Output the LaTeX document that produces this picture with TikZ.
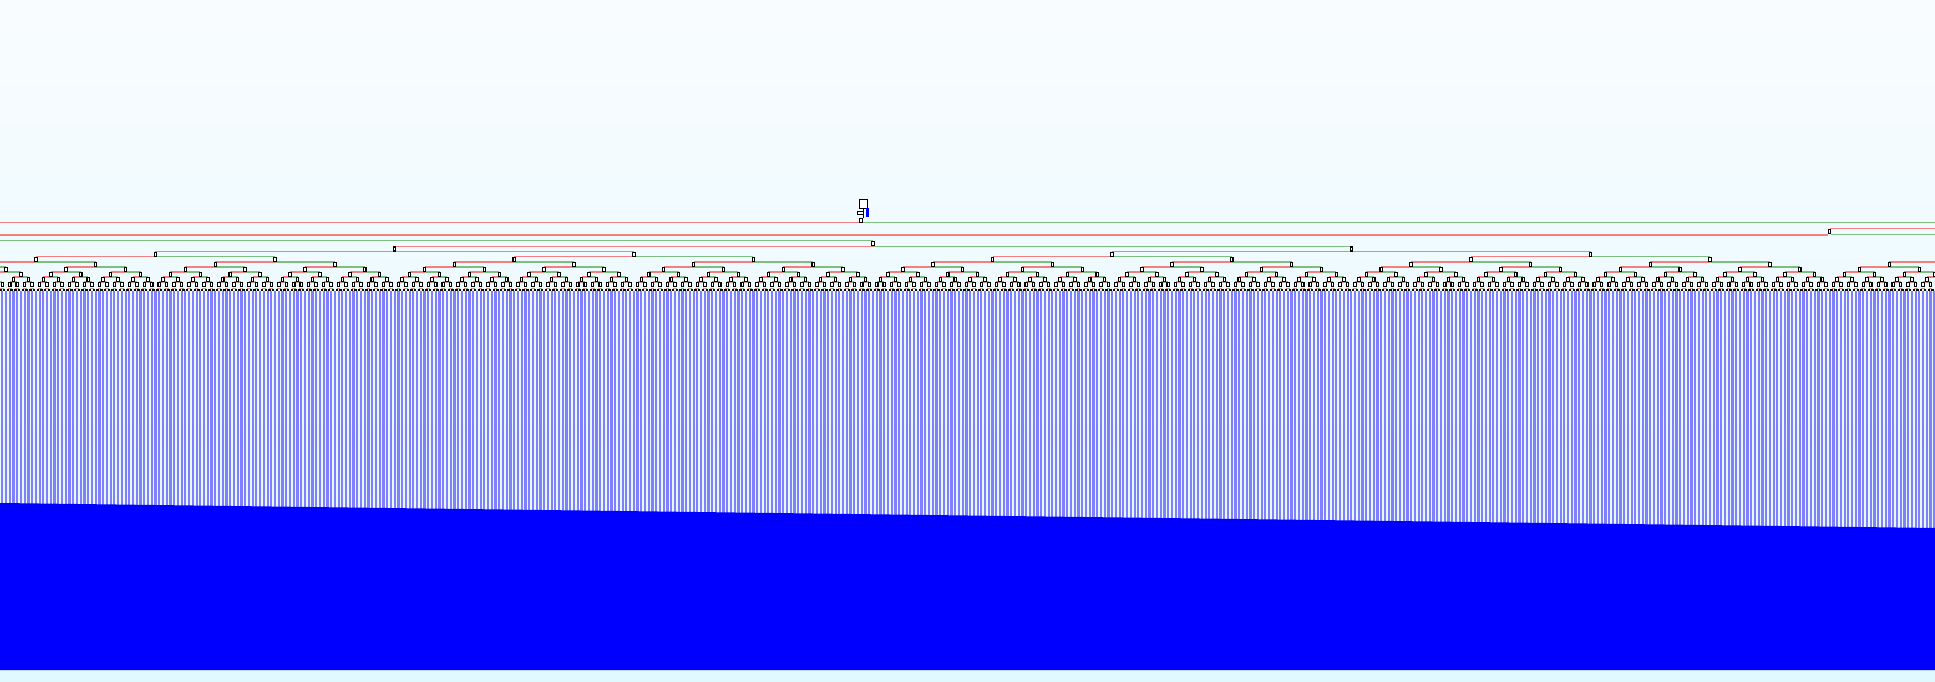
\documentclass[tikz,border=0pt]{standalone}
\usetikzlibrary{positioning}
\definecolor{linkred}{RGB}{242,128,128}
\definecolor{linkgreen}{RGB}{126,190,126}
\definecolor{barblue}{RGB}{128,128,255}
\definecolor{bgtop}{RGB}{249,252,255}
\definecolor{bgbottom}{RGB}{224,248,255}
\tikzset{
  treebox/.style={draw=black, fill=white, line width=0.6pt, inner sep=0pt,
    minimum width=1.4pt, minimum height=2.3pt},
  nullbox/.style={draw=black, fill=white, line width=0.55pt, inner sep=0pt,
    minimum width=0.8pt, minimum height=0.7pt},
  redlink/.style={draw=linkred, line width=0.9pt},
  greenlink/.style={draw=linkgreen, line width=0.9pt},
  nulllink/.style={line width=0.7pt},
}
\def\xo{873}
\def\sp{3.737}
\begin{document}
\begin{tikzpicture}[x=0.02cm, y=-0.02cm]
  \useasboundingbox (0,0) rectangle (1935,682);
  \clip (0,0) rectangle (1935,682);
  \shade[top color=bgtop, bottom color=bgbottom] (0,0) rectangle (1935,682);

  % value bars
  \foreach \k in {-234,...,286}
    \fill[barblue] ({\xo+\k*\sp-1.1},291) rectangle ({\xo+\k*\sp+1.1},560);
  \fill[blue] (0,503) -- (1935,528) -- (1935,670) -- (0,670) -- cycle;

  % top of the tree
  \coordinate (w1) at (0,222.7);
  \coordinate (e1) at (1935,222.7);
  \coordinate (w2) at (0,235);
  \coordinate (e2) at (1935,228.3);
  \coordinate (e3) at (1935,234.3);
  \coordinate (w3) at (0,240.7);
  \node[treebox, minimum width=0.15cm, minimum height=0.17cm] (top) at (863.3,203.8) {};
  \fill[blue] (865.5,208.3) rectangle (869,216.7);
  \draw[line width=0.7pt] (863.3,208.7) -- (863.3,218);
  \node[treebox, minimum width=0.126cm, minimum height=0.066cm] (mid) at (860.7,213.2) {};
  \node[treebox, minimum width=0.06cm, minimum height=0.092cm] (root) at (861.3,220.5) {};
  \draw[redlink] (w1) -- (w1 -| root.west);
  \draw[greenlink] (root.east |- e1) -- (e1);
  \node[treebox] (n256) at ({\xo+256*\sp},231.2) {};
  \draw[redlink] (w2) -- (w2 -| n256.west);
  \draw[redlink] (n256.north |- e2) -- (e2);
  \draw[greenlink] (n256.east |- e3) -- (e3);

  % full subtrees, one level at a time
  \foreach \t in {0,...,6}{
    \pgfmathtruncatemacro\st{2^\t}
    \pgfmathtruncatemacro\mlo{ceil((-255/\st-1)/2)}
    \pgfmathtruncatemacro\mhi{floor((300/\st-1)/2)}
    \pgfmathsetmacro\yy{284.7-5.1*\t}
    \pgfmathsetmacro\dx{\st*\sp}
    \foreach \m in {\mlo,...,\mhi}{
      \pgfmathtruncatemacro\k{\st*(2*\m+1)}
      \coordinate (c\k) at ({\xo+\k*\sp},\yy);
      \ifodd\m
        \draw[greenlink] (c\k) ++(0,-2.5) -- ++(-\dx,0);
      \else
        \draw[redlink] (c\k) ++(0,-2.5) -- ++(\dx,0);
      \fi
      \ifnum\t=0
        \coordinate (zl\k) at ({\xo+(\k-0.5)*\sp},289.9);
        \coordinate (zr\k) at ({\xo+(\k+0.5)*\sp},289.9);
        \draw[redlink, nulllink] (zl\k) ++(0,-1.6) -- ++({0.5*\sp},0);
        \draw[greenlink, nulllink] (zr\k) ++(0,-1.6) -- ++({-0.5*\sp},0);
        \node[nullbox] (nl\k) at (zl\k) {};
        \node[nullbox] (nr\k) at (zr\k) {};
      \fi
      \node[treebox] (n\k) at (c\k) {};
    }
  }

  % the two halves under node 0
  \coordinate (c-128) at ({\xo-128*\sp},249);
  \coordinate (c128) at ({\xo+128*\sp},249);
  \coordinate (c0) at (\xo,243.9);
  \draw[redlink] (c-128) ++(0,-2.5) -- ++({128*\sp},0);
  \draw[greenlink] (c128) ++(0,-2.5) -- ++({-128*\sp},0);
  \node[treebox] (n-128) at (c-128) {};
  \node[treebox] (n128) at (c128) {};
  \draw[greenlink] (w3) -- (w3 -| c0);
  \node[treebox] (n0) at (c0) {};
\end{tikzpicture}
\end{document}
